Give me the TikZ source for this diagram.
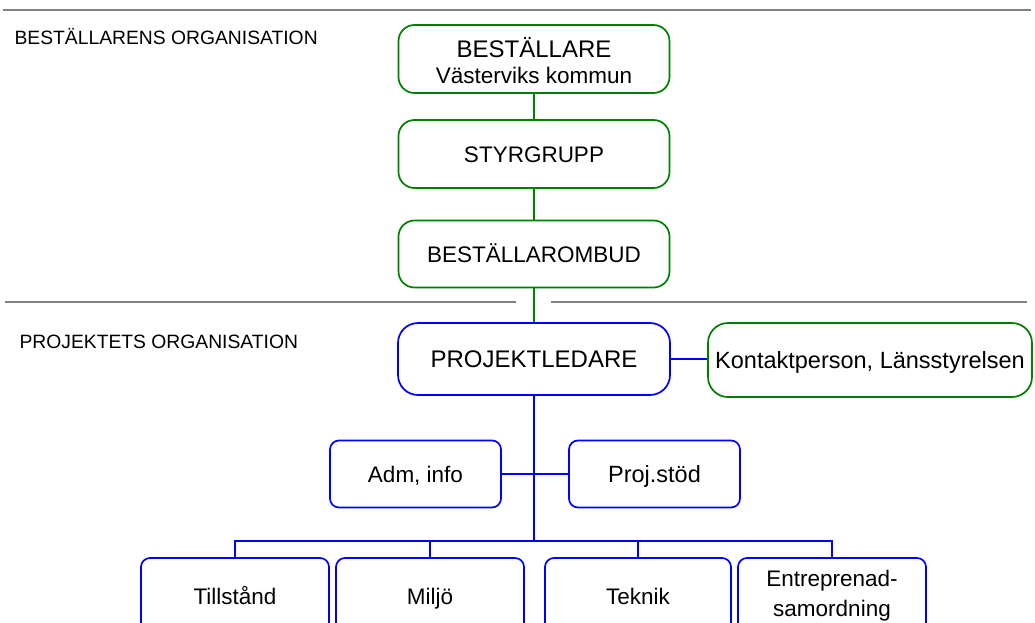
\documentclass[tikz,border=0pt]{standalone}
\usepackage{fontspec}
\setmainfont{Liberation Sans}
\usepackage{tikz}
\usetikzlibrary{calc}
\definecolor{orggreen}{RGB}{0,128,0}
\definecolor{skiljegra}{RGB}{128,128,128}
\newcommand{\textstor}{\fontsize{24}{26}\selectfont}
\newcommand{\textmellan}{\fontsize{22.5}{30}\selectfont}
\newcommand{\textrubrik}{\fontsize{19.3}{22}\selectfont}
\tikzset{
  gbox/.style={draw=orggreen, fill=white, line width=1.7pt, rounded corners=16pt, align=center, inner sep=0pt, font=\textmellan},
  bbox/.style={draw=blue, fill=white, line width=1.7pt, rounded corners=9pt, align=center, inner sep=0pt, font=\textmellan},
  enrad/.style={text height=16pt, text depth=0pt},
  glinje/.style={orggreen, line width=2pt},
  blinje/.style={blue, line width=2pt},
  skilje/.style={skiljegra, line width=2pt},
}

\begin{document}
\begin{tikzpicture}[x=1pt, y=-1pt]
\useasboundingbox (0,0) rectangle (1035,623);
\clip (0,0) rectangle (1035,623);

\draw[skilje] (3,10) -- (1031,10);
\draw[skilje] (5,302) -- (516,302);
\draw[skilje] (551,302) -- (1027,302);
\node[anchor=west, font=\textrubrik] (bestorg) at (11,37) {BESTÄLLARENS ORGANISATION};
\node[anchor=west, font=\textrubrik] (projorg) at (16,342) {PROJEKTETS ORGANISATION};

\node[gbox, minimum width=271pt, minimum height=68pt] (bestallare) at (534,59) {{\textstor\rule{0pt}{24pt}BESTÄLLARE}\\[-4pt]Västerviks kommun};
\node[gbox, enrad, minimum width=271pt, minimum height=68pt] (styrgrupp) at (534,154) {STYRGRUPP};
\node[gbox, enrad, minimum width=271pt, minimum height=67pt] (ombud) at (534,254) {BESTÄLLAROMBUD};
\node[bbox, enrad, rounded corners=20pt, font=\textstor, minimum width=272pt, minimum height=72pt] (projektledare) at (534,359) {PROJEKTLEDARE};
\node[gbox, enrad, rounded corners=20pt, font=\fontsize{23.5}{28}\selectfont, minimum width=324pt, minimum height=74pt] (kontakt) at (870,360) {Kontaktperson, Länsstyrelsen};

\node[bbox, enrad, minimum width=171pt, minimum height=67pt] (adm) at (415.5,474) {Adm, info};
\node[bbox, enrad, font=\fontsize{23.5}{28}\selectfont, minimum width=171pt, minimum height=67pt] (projstod) at (654.5,474) {Proj.stöd};

\node[bbox, enrad, minimum width=188pt, minimum height=76pt] (tillstand) at (235,596) {Tillstånd};
\node[bbox, enrad, minimum width=188pt, minimum height=76pt] (miljo) at (430,596) {Miljö};
\node[bbox, enrad, minimum width=186pt, minimum height=76pt] (teknik) at (638,596) {Teknik};
\node[bbox, minimum width=188pt, minimum height=76pt] (entre) at (832,596) {Entreprenad-\\samordning};

\coordinate (buss) at (534,541);

\draw[glinje] (bestallare) -- (styrgrupp);
\draw[glinje] (styrgrupp) -- (ombud);
\draw[glinje] (ombud) -- (projektledare);
\draw[blinje] (projektledare.east) -- (projektledare.east -| kontakt.west);
\draw[blinje] (projektledare) -- (buss);
\draw[blinje] (adm) -- (projstod);
\draw[blinje] (tillstand.north) |- (buss) -| (entre.north);
\foreach \n in {miljo,teknik} {
 \draw[blinje] (\n.north) -- (\n.north |- buss);
}
\end{tikzpicture}
\end{document}
